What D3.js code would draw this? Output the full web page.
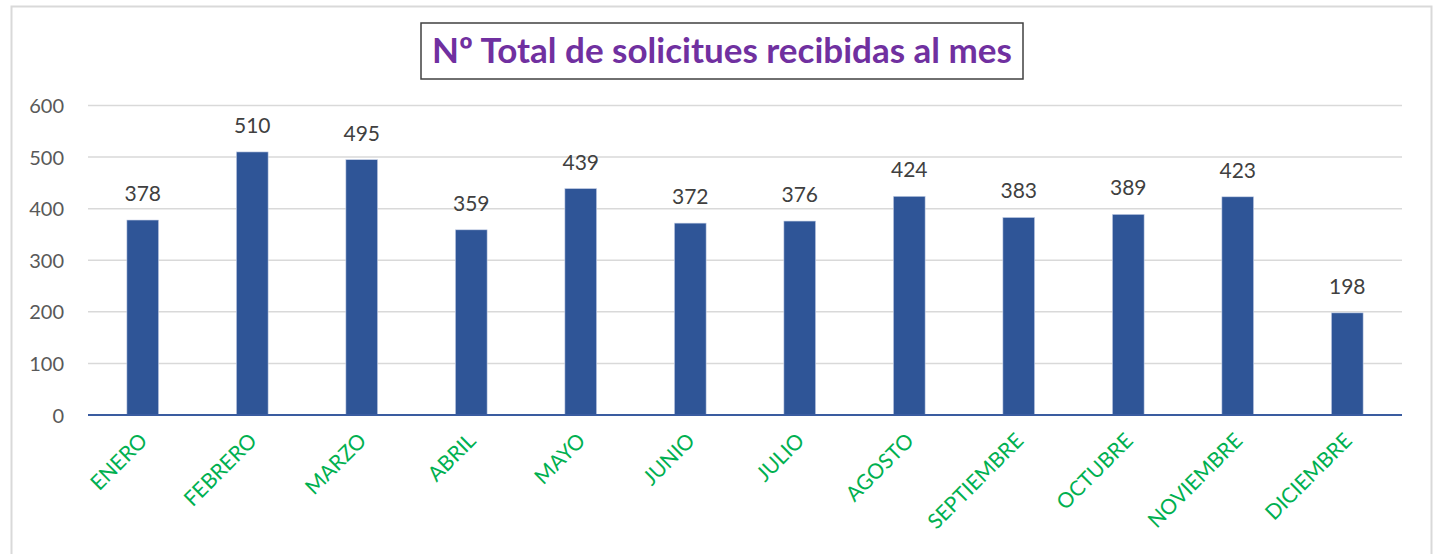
<!DOCTYPE html>
<html>
<head>
<meta charset="utf-8">
<script src="https://cdn.jsdelivr.net/npm/d3@7"></script>
<style>
	body { margin: 0; background: #fff; }
	svg { display: block; }
	text { font-family: Lato, "Open Sans", sans-serif; }
</style>
</head>
<body>
<script>
var months = ["ENERO","FEBRERO","MARZO","ABRIL","MAYO","JUNIO","JULIO","AGOSTO","SEPTIEMBRE","OCTUBRE","NOVIEMBRE","DICIEMBRE"];
var solicitudes = [378,510,495,359,439,372,376,424,383,389,423,198];
var yTicks = [0,100,200,300,400,500,600];
var title = "Nº Total de solicitues recibidas al mes";

var width = 1445,
	height = 554,
	plotLeft = 88,
	plotRight = 1402,
	plotTop = 105.5,
	plotBottom = 415;

var svg = d3.select("body").append("svg")
			.attr("width",width)
			.attr("height",height);

// chart frame
svg.append("rect")
	.attr("x",11.5)
	.attr("y",6.5)
	.attr("width",1420)
	.attr("height",580)
	.style("fill","#fff")
	.style("stroke","#d9d9d9")
	.style("stroke-width",2);

var x = d3.scaleBand()
	.domain(months)
	.range([plotLeft,plotRight])
	.paddingInner(0.71)
	.paddingOuter(0.355);

var y = d3.scaleLinear()
	.domain([0,600])
	.range([plotBottom,plotTop]);

// grid
svg.selectAll(".grid")
	.data(yTicks.slice(1))
	.enter()
	.append("line")
	.attr("class","grid")
	.attr("x1",plotLeft)
	.attr("x2",plotRight)
	.attr("y1",function(d){ return y(d); })
	.attr("y2",function(d){ return y(d); })
	.style("stroke","#d9d9d9")
	.style("stroke-width",1.5);

// y axis labels
var yAxis = d3.axisLeft(y).tickValues(yTicks).tickSize(0).tickPadding(0);
var gy = svg.append("g")
	.attr("transform","translate(64,0)")
	.call(yAxis);
gy.select(".domain").remove();
gy.selectAll("text")
	.style("font-size","20px")
	.style("fill","#595959")
	.attr("dy","0.35em");

// bars
svg.selectAll(".bar")
	.data(solicitudes)
	.enter()
	.append("rect")
	.attr("class","bar")
	.attr("x",function(d,i){ return x(months[i]); })
	.attr("width",x.bandwidth())
	.attr("y",function(d){ return y(d); })
	.attr("height",function(d){ return y(0) - y(d); })
	.style("fill","#2f5597")
	.style("stroke","#c9d3e8")
	.style("stroke-width",0.6);

// value labels
svg.selectAll(".val")
	.data(solicitudes)
	.enter()
	.append("text")
	.attr("class","val")
	.attr("x",function(d,i){ return x(months[i]) + x.bandwidth()/2; })
	.attr("y",function(d){ return y(d) - 19; })
	.attr("text-anchor","middle")
	.style("font-size","21px")
	.style("fill","#404040")
	.text(function(d){ return d; });

// x axis
var xAxis = d3.axisBottom(x).tickSize(0).tickPadding(0);
var gx = svg.append("g")
	.attr("transform","translate(0,"+plotBottom+")")
	.call(xAxis);
gx.select(".domain")
	.attr("d","M"+plotLeft+",0H"+plotRight)
	.style("stroke","#3a5ca0")
	.style("stroke-width",2);
gx.selectAll("text")
	.attr("text-anchor","end")
	.attr("y",0)
	.attr("dy","0")
	.attr("transform","translate(6,27) rotate(-45)")
	.style("font-size","21px")
	.style("fill","#00b050");

// title box
svg.append("rect")
	.attr("x",421)
	.attr("y",23)
	.attr("width",602)
	.attr("height",56)
	.style("fill","#fff")
	.style("stroke","#404040")
	.style("stroke-width",1.5);

svg.append("text")
	.attr("x",722)
	.attr("y",63)
	.attr("text-anchor","middle")
	.style("font-size","35px")
	.style("font-weight","bold")
	.style("fill","#7030a0")
	.text(title);
</script>
</body>
</html>
